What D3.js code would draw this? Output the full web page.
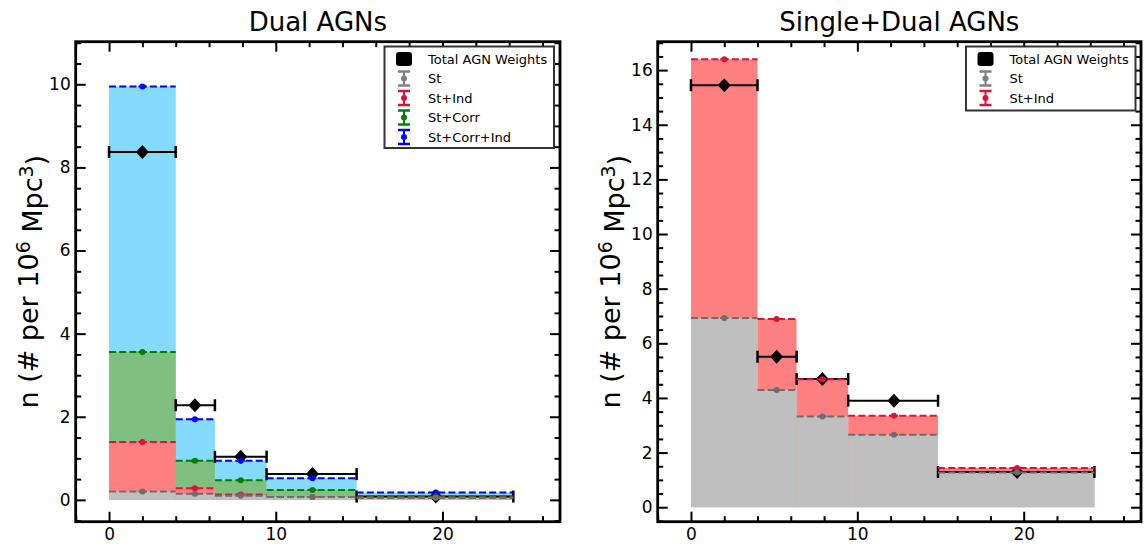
<!DOCTYPE html>
<html><head><meta charset="utf-8">
<script src="https://cdn.jsdelivr.net/npm/d3@7"></script>
<style>body{margin:0;background:#fff} text{font-family:"DejaVu Sans",sans-serif}</style>
</head><body><svg id="c" width="1145" height="546"></svg>
<script>
// ---- data ----
const binEdges = [0, 4, 6.35, 9.45, 14.85, 24.25];
const binCenters = [2.0, 5.15, 7.9, 12.2, 19.6];
const xTicks = [0, 10, 20];
// Dual AGNs
const dualSt = [0.2, 0.15, 0.1, 0.07, 0.05];
const dualStInd = [1.39, 0.28, 0.13, 0.07, 0.05];
const dualStCorr = [3.56, 0.94, 0.47, 0.24, 0.08];
const dualStCorrInd = [9.95, 1.94, 0.94, 0.52, 0.175];
const dualTotal = [8.37, 2.28, 1.04, 0.62, 0.08];
const dualYTicks = [0, 2, 4, 6, 8, 10];
// Single+Dual AGNs
const allSt = [6.93, 4.29, 3.32, 2.65, 1.27];
const allStInd = [16.4, 6.89, 4.68, 3.35, 1.44];
const allTotal = [15.45, 5.51, 4.69, 3.9, 1.29];
const allYTicks = [0, 2, 4, 6, 8, 10, 12, 14, 16];

const svg = d3.select("#c");

const COL = {
  st: {fill: "#bfbfbf", line: "#6e6e6e", label: "St", leg: "#7f7f7f"},
  ind: {fill: "#ff8080", line: "#dc143c", label: "St+Ind", leg: "#dc143c"},
  corr: {fill: "#7fbf7f", line: "#008000", label: "St+Corr", leg: "#008000"},
  ci: {fill: "#84dbfb", line: "#0000ff", label: "St+Corr+Ind", leg: "#0000ff"}
};

function panel(o) {
  const x = d3.scaleLinear().domain([-2.0, 27.05]).range([o.left, o.right]);
  const y = d3.scaleLinear().domain(o.yDomain).range([o.bottom, o.top]);
  const g = svg.append("g");
  const clipId = "clip" + o.id;
  svg.append("clipPath").attr("id", clipId).append("rect")
    .attr("x", o.left).attr("y", o.top).attr("width", o.right - o.left).attr("height", o.bottom - o.top);
  const pg = g.append("g").attr("clip-path", `url(#${clipId})`);

  // fills (largest first)
  o.series.slice().reverse().forEach(s => {
    pg.append("g").selectAll("rect").data(s.values).join("rect")
      .attr("x", (d, i) => x(binEdges[i]))
      .attr("width", (d, i) => x(binEdges[i + 1]) - x(binEdges[i]))
      .attr("y", d => y(d)).attr("height", d => y(0) - y(d))
      .attr("fill", s.c.fill);
  });

  // total errorbars + diamonds
  const tg = pg.append("g");
  o.total.forEach((v, i) => {
    const yy = y(v), x0 = x(binEdges[i]), x1 = x(binEdges[i + 1]);
    tg.append("line").attr("x1", x0).attr("x2", x1).attr("y1", yy).attr("y2", yy)
      .attr("stroke", "#000").attr("stroke-width", 2);
    [x0, x1].forEach(xc => tg.append("line").attr("x1", xc).attr("x2", xc)
      .attr("y1", yy - 6).attr("y2", yy + 6).attr("stroke", "#000").attr("stroke-width", 2.5));
    const cx = x(binCenters[i]);
    tg.append("path").attr("d", `M${cx},${yy - 7}L${cx + 6.5},${yy}L${cx},${yy + 7}L${cx - 6.5},${yy}Z`)
      .attr("fill", "#000");
  });

  // dashed lines and dots
  o.series.slice().reverse().forEach(s => {
    const lg = pg.append("g");
    s.values.forEach((v, i) => {
      const yy = y(v);
      lg.append("line").attr("x1", x(binEdges[i])).attr("x2", x(binEdges[i + 1]))
        .attr("y1", yy).attr("y2", yy).attr("stroke", s.c.line).attr("stroke-width", 2)
        .attr("stroke-dasharray", "7,3.2");
      const cx = x(binCenters[i]);
      lg.append("line").attr("x1", cx - 4).attr("x2", cx + 4).attr("y1", yy).attr("y2", yy)
        .attr("stroke", s.c.line).attr("stroke-width", 2);
      lg.append("circle").attr("cx", cx).attr("cy", yy).attr("r", 3).attr("fill", s.c.line);
    });
  });

  // axes
  const xMinor = d3.range(-2, 27.01, 2).filter(v => v % 10 !== 0);
  const yMinor = d3.range(-0.5, o.yDomain[1] + 0.001, 0.5)
    .filter(v => v > o.yDomain[0] && Math.abs(v / 2 - Math.round(v / 2)) > 1e-6);
  const fmt = d3.format("d");
  const addAxis = (gen, tr, labels) => {
    const a = g.append("g").attr("transform", tr).call(gen);
    a.select(".domain").remove();
    a.selectAll("line").attr("stroke", "#000").attr("stroke-width", 2);
    a.selectAll("text").attr("font-size", 17).attr("font-family", "DejaVu Sans").attr("fill", "#000");
    if (!labels) a.selectAll("text").remove();
    return a;
  };
  addAxis(d3.axisBottom(x).tickValues(xTicks).tickSize(-10).tickPadding(6).tickFormat(fmt), `translate(0,${o.bottom})`, true);
  addAxis(d3.axisBottom(x).tickValues(xMinor).tickSize(-5.5).tickFormat(""), `translate(0,${o.bottom})`, false);
  addAxis(d3.axisTop(x).tickValues(xTicks).tickSize(-10).tickFormat(""), `translate(0,${o.top})`, false);
  addAxis(d3.axisTop(x).tickValues(xMinor).tickSize(-5.5).tickFormat(""), `translate(0,${o.top})`, false);
  addAxis(d3.axisLeft(y).tickValues(o.yTicks).tickSize(-10).tickPadding(5).tickFormat(fmt), `translate(${o.left},0)`, true);
  addAxis(d3.axisLeft(y).tickValues(yMinor).tickSize(-5.5).tickFormat(""), `translate(${o.left},0)`, false);
  addAxis(d3.axisRight(y).tickValues(o.yTicks).tickSize(-10).tickFormat(""), `translate(${o.right},0)`, false);
  addAxis(d3.axisRight(y).tickValues(yMinor).tickSize(-5.5).tickFormat(""), `translate(${o.right},0)`, false);

  // legend
  const L = o.legend;
  const lg = g.append("g");
  lg.append("rect").attr("x", L.x).attr("y", L.y).attr("width", L.w).attr("height", L.h)
    .attr("fill", "#fff").attr("stroke", "#333").attr("stroke-width", 2);
  const items = [{label: "Total AGN Weights", total: true}].concat(o.series.map(s => ({label: s.c.label, c: s.c})));
  items.forEach((it, k) => {
    const cy = L.y + 12.5 + k * 19.5;
    const hx = L.x + 19.5;
    if (it.total) {
      lg.append("rect").attr("x", hx - 8).attr("y", cy - 7).attr("width", 16).attr("height", 14)
        .attr("rx", 3).attr("fill", "#000");
    } else {
      lg.append("line").attr("x1", hx).attr("x2", hx).attr("y1", cy - 7).attr("y2", cy + 7)
        .attr("stroke", it.c.leg).attr("stroke-width", 2);
      [cy - 7, cy + 7].forEach(yc => lg.append("line").attr("x1", hx - 6).attr("x2", hx + 6)
        .attr("y1", yc).attr("y2", yc).attr("stroke", it.c.leg).attr("stroke-width", 2.5));
      lg.append("circle").attr("cx", hx).attr("cy", cy).attr("r", 3).attr("fill", it.c.leg);
    }
    lg.append("text").attr("x", L.x + 43.5).attr("y", cy).attr("dy", "0.36em")
      .attr("font-size", 13).attr("fill", "#000").text(it.label);
  });

  // spines
  g.append("rect").attr("x", o.left).attr("y", o.top).attr("width", o.right - o.left)
    .attr("height", o.bottom - o.top).attr("fill", "none").attr("stroke", "#000").attr("stroke-width", 2.8);

  // title
  g.append("text").attr("x", (o.left + o.right) / 2).attr("y", 31).attr("text-anchor", "middle")
    .attr("font-size", 26).attr("fill", "#000").text(o.title);

  // y label
  const yl = g.append("text").attr("transform", `translate(${o.ylx},${(o.top + o.bottom) / 2}) rotate(-90)`)
    .attr("text-anchor", "middle").attr("font-size", 27).attr("fill", "#000");
  yl.append("tspan").text("n (# per 10");
  yl.append("tspan").attr("dy", "-0.45em").attr("font-size", "0.7em").text("6");
  yl.append("tspan").attr("dy", "0.45em").text(" Mpc");
  yl.append("tspan").attr("dy", "-0.45em").attr("font-size", "0.7em").text("3");
  yl.append("tspan").attr("dy", "0.45em").text(")");
}

panel({
  id: 1, left: 75.7, right: 560, top: 41.7, bottom: 521.7,
  yDomain: [-0.525, 11.025], yTicks: dualYTicks,
  series: [
    {values: dualSt, c: COL.st},
    {values: dualStInd, c: COL.ind},
    {values: dualStCorr, c: COL.corr},
    {values: dualStCorrInd, c: COL.ci}
  ],
  total: dualTotal, title: "Dual AGNs", ylx: 38,
  legend: {x: 384.5, y: 46.5, w: 169.5, h: 101.5}
});
panel({
  id: 2, left: 657.7, right: 1141, top: 41.7, bottom: 521.7,
  yDomain: [-0.53, 17.04], yTicks: allYTicks,
  series: [
    {values: allSt, c: COL.st},
    {values: allStInd, c: COL.ind}
  ],
  total: allTotal, title: "Single+Dual AGNs", ylx: 620,
  legend: {x: 966, y: 46.5, w: 169.5, h: 64}
});
</script></body></html>
